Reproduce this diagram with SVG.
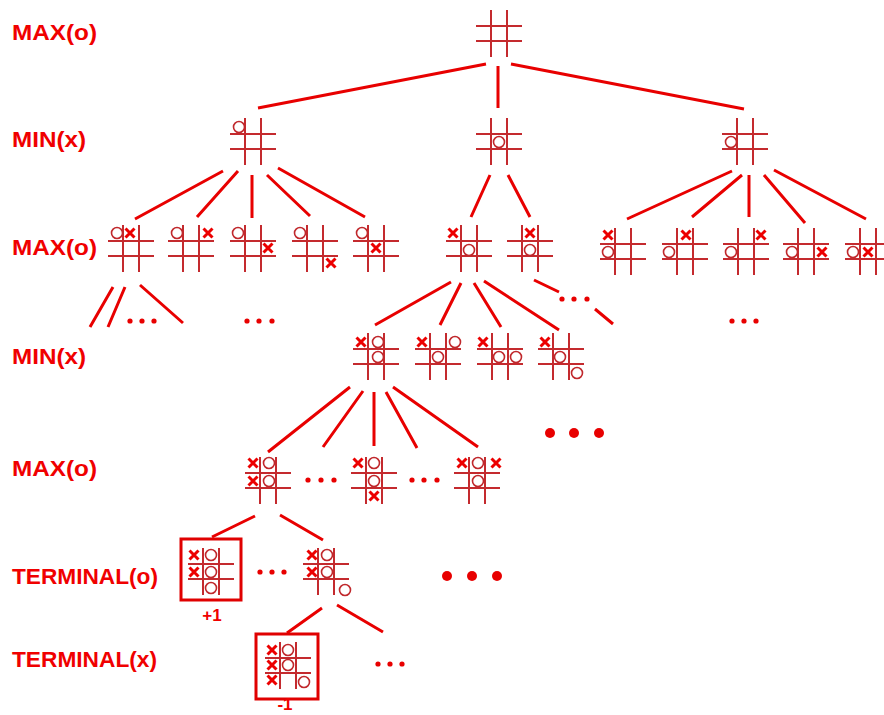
<svg xmlns="http://www.w3.org/2000/svg" xmlns:xlink="http://www.w3.org/1999/xlink" width="884" height="715" viewBox="0 0 884 715">
<style>
.lbl{font-family:"Liberation Sans",Arial,sans-serif;font-weight:bold;font-size:22px;fill:#f00000}
.val{font-family:"Liberation Sans",Arial,sans-serif;font-weight:bold;font-size:17px;fill:#f00000;text-anchor:middle}
.e{stroke:#e80000;stroke-width:3;fill:none;stroke-linecap:butt}
.g{stroke:#c42a2e;stroke-width:2;fill:none}
.o{stroke:#c0282c;stroke-width:1.6;fill:none}
.x{stroke:#ec0000;stroke-width:3;fill:none}
.d{fill:#e80000}
.box{stroke:#e00000;stroke-width:3;fill:none}
</style>
<defs>
<g id="b"><path class="g" d="M0 16H46M0 31H46M15 0V47M31 0V47"/></g>
<path id="X" class="x" d="M-4.5 -4.5L4.5 4.5M4.5 -4.5L-4.5 4.5"/>
<circle id="O" class="o" r="5.5"/>
</defs>

<g id="labels">
<text class="lbl" x="12" y="40" textLength="85" lengthAdjust="spacingAndGlyphs">MAX(o)</text>
<text class="lbl" x="12" y="147" textLength="74" lengthAdjust="spacingAndGlyphs">MIN(x)</text>
<text class="lbl" x="12" y="255" textLength="85" lengthAdjust="spacingAndGlyphs">MAX(o)</text>
<text class="lbl" x="12" y="364" textLength="74" lengthAdjust="spacingAndGlyphs">MIN(x)</text>
<text class="lbl" x="12" y="476" textLength="85" lengthAdjust="spacingAndGlyphs">MAX(o)</text>
<text class="lbl" x="12" y="584" textLength="146" lengthAdjust="spacingAndGlyphs">TERMINAL(o)</text>
<text class="lbl" x="12" y="667" textLength="145" lengthAdjust="spacingAndGlyphs">TERMINAL(x)</text>
</g>

<g id="connectors">
<path class="e" d="M486 64L258 108M498 66V108M511 64L744 109"/>
<path class="e" d="M223 171L135 219M238 171L197 217M252 175V218M267 175L310 216M278 168L365 217"/>
<path class="e" d="M490 175L471 217M508 175L530 217"/>
<path class="e" d="M732 171L627 219M742 175L692 217M749 175V217M764 175L805 223M774 170L866 219"/>
<path class="e" d="M113 287L90 327M125 287L108 327M140 285L183 323"/>
<path class="e" d="M451 282L375 325M461 283L440 325M474 283L501 327M484 281L559 330"/>
<path class="e" d="M534 280L559 292M595 309L613 324"/>
<path class="e" d="M350 387L268 452M363 391L323 447M374 392V446M386 392L417 448M393 387L478 447"/>
<path class="e" d="M255 516L212 537M280 515L323 540"/>
<path class="e" d="M322 608L287 633M337 605L383 632"/>
</g>

<g id="dots">
<circle class="d" cx="130" cy="321" r="2.6"/><circle class="d" cx="142" cy="321" r="2.6"/><circle class="d" cx="154" cy="321" r="2.6"/>
<circle class="d" cx="247" cy="321" r="2.6"/><circle class="d" cx="259" cy="321" r="2.6"/><circle class="d" cx="272" cy="321" r="2.6"/>
<circle class="d" cx="562" cy="299" r="2.6"/><circle class="d" cx="574" cy="299" r="2.6"/><circle class="d" cx="587" cy="299" r="2.6"/>
<circle class="d" cx="732" cy="321" r="2.6"/><circle class="d" cx="744" cy="321" r="2.6"/><circle class="d" cx="756" cy="321" r="2.6"/>
<circle class="d" cx="308" cy="480" r="2.6"/><circle class="d" cx="321" cy="480" r="2.6"/><circle class="d" cx="334" cy="480" r="2.6"/>
<circle class="d" cx="412" cy="480" r="2.6"/><circle class="d" cx="424" cy="480" r="2.6"/><circle class="d" cx="437" cy="480" r="2.6"/>
<circle class="d" cx="260" cy="572" r="2.6"/><circle class="d" cx="272" cy="572" r="2.6"/><circle class="d" cx="284" cy="572" r="2.6"/>
<circle class="d" cx="378" cy="664" r="2.6"/><circle class="d" cx="390" cy="664" r="2.6"/><circle class="d" cx="402" cy="664" r="2.6"/>
<circle class="d" cx="550" cy="433" r="5"/><circle class="d" cx="574" cy="433" r="5"/><circle class="d" cx="599" cy="433" r="5"/>
<circle class="d" cx="447" cy="576" r="5"/><circle class="d" cx="472" cy="576" r="5"/><circle class="d" cx="497" cy="576" r="5"/>
</g>

<g id="root"><use href="#b" x="476" y="10"/></g>

<g id="min-left"><use href="#b" x="230" y="118"/><use href="#O" x="239" y="127"/></g>
<g id="min-mid"><use href="#b" x="476" y="118"/><use href="#O" x="499" y="142"/></g>
<g id="min-right"><use href="#b" x="722" y="118"/><use href="#O" x="731" y="142"/></g>

<g id="max-a"><use href="#b" x="108" y="225"/><use href="#O" x="117" y="233"/><use href="#X" x="130" y="233"/></g>
<g id="max-b"><use href="#b" x="168" y="225"/><use href="#O" x="177" y="233"/><use href="#X" x="208" y="233"/></g>
<g id="max-c"><use href="#b" x="230" y="225"/><use href="#O" x="238" y="233"/><use href="#X" x="268" y="248"/></g>
<g id="max-d"><use href="#b" x="292" y="225"/><use href="#O" x="300" y="233"/><use href="#X" x="331" y="263"/></g>
<g id="max-e"><use href="#b" x="353" y="225"/><use href="#O" x="362" y="233"/><use href="#X" x="376" y="248"/></g>
<g id="max-f"><use href="#b" x="446" y="225"/><use href="#X" x="453" y="233"/><use href="#O" x="469" y="250"/></g>
<g id="max-g"><use href="#b" x="507" y="225"/><use href="#X" x="530" y="233"/><use href="#O" x="530" y="250"/></g>
<g id="max-h"><use href="#b" x="600" y="228"/><use href="#X" x="608" y="235"/><use href="#O" x="608" y="252"/></g>
<g id="max-i"><use href="#b" x="662" y="228"/><use href="#X" x="686" y="235"/><use href="#O" x="669" y="252"/></g>
<g id="max-j"><use href="#b" x="723" y="228"/><use href="#X" x="761" y="235"/><use href="#O" x="731" y="252"/></g>
<g id="max-k"><use href="#b" x="783" y="228"/><use href="#X" x="822" y="252"/><use href="#O" x="792" y="252"/></g>
<g id="max-l"><use href="#b" x="845" y="228"/><use href="#O" x="853" y="252"/><use href="#X" x="868" y="252"/></g>

<g id="min-m"><use href="#b" x="353" y="333"/><use href="#X" x="361" y="342"/><use href="#O" x="378" y="342"/><use href="#O" x="378" y="357"/></g>
<g id="min-n"><use href="#b" x="415" y="333"/><use href="#X" x="422" y="342"/><use href="#O" x="438" y="357"/><use href="#O" x="455" y="342"/></g>
<g id="min-o"><use href="#b" x="477" y="333"/><use href="#X" x="483" y="342"/><use href="#O" x="499" y="357"/><use href="#O" x="516" y="357"/></g>
<g id="min-p"><use href="#b" x="538" y="333"/><use href="#X" x="545" y="342"/><use href="#O" x="560" y="357"/><use href="#O" x="577" y="373"/></g>

<g id="max-q"><use href="#b" x="245" y="457"/><use href="#X" x="253" y="463"/><use href="#O" x="269" y="463"/><use href="#X" x="253" y="481"/><use href="#O" x="269" y="481"/></g>
<g id="max-r"><use href="#b" x="351" y="457"/><use href="#X" x="358" y="463"/><use href="#O" x="374" y="463"/><use href="#O" x="374" y="481"/><use href="#X" x="374" y="496"/></g>
<g id="max-s"><use href="#b" x="454" y="457"/><use href="#X" x="462" y="463"/><use href="#O" x="478" y="463"/><use href="#X" x="496" y="463"/><use href="#O" x="478" y="481"/></g>

<g id="term-o1"><rect class="box" x="181" y="539" width="60" height="61"/><use href="#b" x="188" y="548"/><use href="#X" x="194" y="555"/><use href="#O" x="211" y="555"/><use href="#X" x="194" y="572"/><use href="#O" x="211" y="572"/><use href="#O" x="211" y="588"/><text class="val" x="212" y="621">+1</text></g>
<g id="term-o2"><use href="#b" x="303" y="548"/><use href="#X" x="312" y="555"/><use href="#O" x="327" y="555"/><use href="#X" x="312" y="572"/><use href="#O" x="327" y="572"/><use href="#O" x="345" y="590"/></g>

<g id="term-x1"><rect class="box" x="256" y="634" width="62" height="65"/><use href="#b" x="265" y="642"/><use href="#X" x="272" y="650"/><use href="#O" x="288" y="650"/><use href="#X" x="272" y="665"/><use href="#O" x="288" y="665"/><use href="#X" x="272" y="680"/><use href="#O" x="304" y="682"/><text class="val" x="285" y="710" font-size="16">-1</text></g>
</svg>
